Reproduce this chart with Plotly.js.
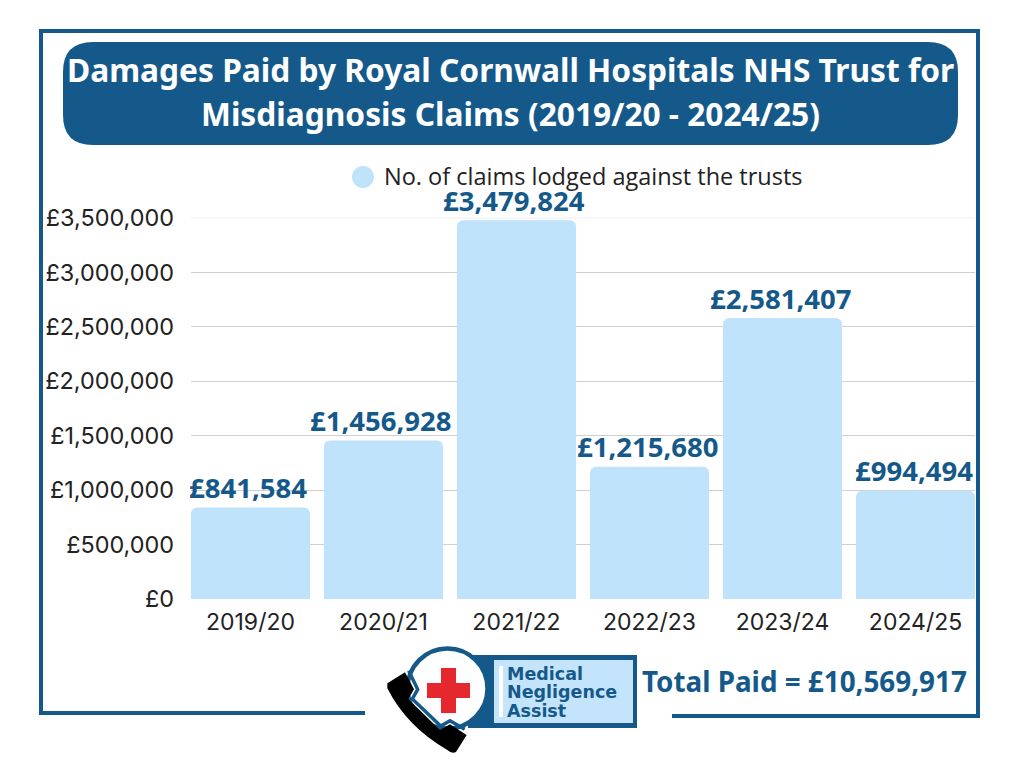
<!DOCTYPE html>
<html>
<head>
<meta charset="utf-8">
<script src="https://cdn.plot.ly/plotly-3.0.1.min.js"></script>
<style>html,body{margin:0;padding:0;background:#fff;overflow:hidden}#chart{width:1024px;height:768px}</style>
</head>
<body>
<div id="chart"></div>
<script>
const categories = ['2019/20','2020/21','2021/22','2022/23','2023/24','2024/25'];
const damages = [841584,1456928,3479824,1215680,2581407,994494];
const damageLabels = ['£841,584','£1,456,928','£3,479,824','£1,215,680','£2,581,407','£994,494'];
const yTicks = [0,500000,1000000,1500000,2000000,2500000,3000000,3500000];
const yTickLabels = ['£0','£500,000','£1,000,000','£1,500,000','£2,000,000','£2,500,000','£3,000,000','£3,500,000'];
const seriesName = 'No. of claims lodged against the trusts';
const titleLines = ['Damages Paid by Royal Cornwall Hospitals NHS Trust for','Misdiagnosis Claims (2019/20 - 2024/25)'];
const totalText = 'Total Paid = £10,569,917';
const logoLines = ['Medical','Negligence','Assist'];

const NAVY='#15598a', LIGHT='#bfe3fb', PAGE=[1024,768];
const L=191,R=975,T=218,B=599;
const fx=p=>(p-L)/(R-L), fy=p=>(B-p)/(B-T);
const paperShape=o=>Object.assign({xref:'paper',yref:'paper',layer:'above'},o);
const line=(x0,y0,x1,y1,color,w)=>paperShape({type:'line',x0:fx(x0),x1:fx(x1),y0:fy(y0),y1:fy(y1),line:{color,width:w}});
const rect=(x0,y0,x1,y1,fill)=>paperShape({type:'rect',x0:fx(x0),x1:fx(x1),y0:fy(y0),y1:fy(y1),fillcolor:fill,line:{width:0}});
const circle=(cx,cy,r,fill,lc,lw)=>paperShape({type:'circle',x0:fx(cx-r),x1:fx(cx+r),y0:fy(cy+r),y1:fy(cy-r),fillcolor:fill,line:{color:lc||fill,width:lw||0}});
const poly=(d,fill)=>paperShape({type:'path',path:d,fillcolor:fill,line:{width:0}});
const pt=(x,y)=>fx(x).toFixed(5)+','+fy(y).toFixed(5);

const bx0=63,bx1=958,by0=42,by1=145,br=30;
const banner='M'+pt(bx0+br,by0)+' L'+pt(bx1-br,by0)+' Q'+pt(bx1,by0)+' '+pt(bx1,by0+br)+' L'+pt(bx1,by1-br)+' Q'+pt(bx1,by1)+' '+pt(bx1-br,by1)+' L'+pt(bx0+br,by1)+' Q'+pt(bx0,by1)+' '+pt(bx0,by1-br)+' L'+pt(bx0,by0+br)+' Q'+pt(bx0,by0)+' '+pt(bx0+br,by0)+' Z';
const z=(x,y)=>pt(370+x/3,630+y/3);
const phone='M'+z(52,160)+' L'+z(105,127)+' L'+z(132,178)+' L'+z(115,207)+' L'+z(210,300)+' L'+z(240,283)+' L'+z(290,315)+' L'+z(258,366)+' Q'+z(245,372)+' '+z(232,360)+' Q'+z(110,290)+' '+z(52,175)+' Z';
const phoneEdge='M'+z(116,122)+' L'+z(143,178)+' L'+z(127,207)+' L'+z(212,288)+' L'+z(240,272)+' L'+z(284,298);

const shapes=[
  line(39,31,980,31,NAVY,4), line(41,29,41,715,NAVY,4), line(978,29,978,718,NAVY,4),
  line(39,713,365,713,NAVY,4), line(672,716,980,716,NAVY,4),
  poly(banner,NAVY),
  line(L,T,R,T,'#f0f0f0',1),
  circle(363,177,11,LIGHT),
  rect(468,655,637,728,NAVY),
  rect(494,660,633,723,'#c4e4fb'),
  rect(499,666,503,717,'#ffffff'),
  circle(447.5,688.5,40,'#ffffff',NAVY,4.5),
  paperShape({type:'path',path:phoneEdge,line:{color:NAVY,width:3.5}}),
  poly(phone,'#000000'),
  rect(427,683,470,698,'#e5282d'),
  rect(441,668,456,713,'#e5282d')
];
const SANS='"Noto Sans",sans-serif';
const ann=(px,py,text,xanchor,font)=>({xref:'paper',yref:'paper',x:fx(px),y:fy(py),text,showarrow:false,xanchor,yanchor:'middle',font});
const titleFont={family:SANS,size:31.7,color:'#ffffff',weight:700};
const logoFont={family:'"DejaVu Sans",sans-serif',size:17.5,color:NAVY,weight:700};
const valueFont={family:SANS,size:27.5,color:NAVY,weight:700};
const annotations=[
  ann(510,70,titleLines[0],'center',titleFont),
  ann(510,114,titleLines[1],'center',titleFont),
  ann(382,176,seriesName,'left',{family:'"Open Sans",sans-serif',size:23.5,color:'#222222'}),
  ann(804.5,681,totalText,'center',{family:SANS,size:27.8,color:NAVY,weight:700}),
  ann(505,674,logoLines[0],'left',logoFont),
  ann(505,692,logoLines[1],'left',logoFont),
  ann(505,711,logoLines[2],'left',logoFont)
].concat(categories.map((c,i)=>({xref:'x',yref:'y',x:c,y:damages[i],text:damageLabels[i],showarrow:false,
  xanchor:'center',yanchor:'middle',yshift:20,xshift:-2,font:valueFont})));

Plotly.newPlot('chart',[{
  type:'bar',x:categories,y:damages,name:seriesName,
  marker:{color:LIGHT,cornerradius:6,line:{width:0}},
  cliponaxis:false,hoverinfo:'x+y'
}],{
  width:PAGE[0],height:PAGE[1],
  margin:{l:L,r:PAGE[0]-R,t:T,b:PAGE[1]-B,pad:0},
  paper_bgcolor:'#ffffff',plot_bgcolor:'#ffffff',
  showlegend:false,bargap:0.105,
  xaxis:{type:'category',range:[-0.447,5.447],showgrid:false,zeroline:false,showline:false,ticks:'',ticklabelstandoff:7,
    tickfont:{family:'Inter,sans-serif',size:23,color:'#222222'}},
  yaxis:{range:[0,3500000],tickvals:yTicks,ticktext:yTickLabels,showgrid:true,gridcolor:'#cfcfcf',gridwidth:1,zeroline:false,showline:false,ticks:'',ticklabelstandoff:16,
    tickfont:{family:'Inter,sans-serif',size:23.4,color:'#222222'}},
  shapes,annotations
},{staticPlot:true,displayModeBar:false});
</script>
</body>
</html>
